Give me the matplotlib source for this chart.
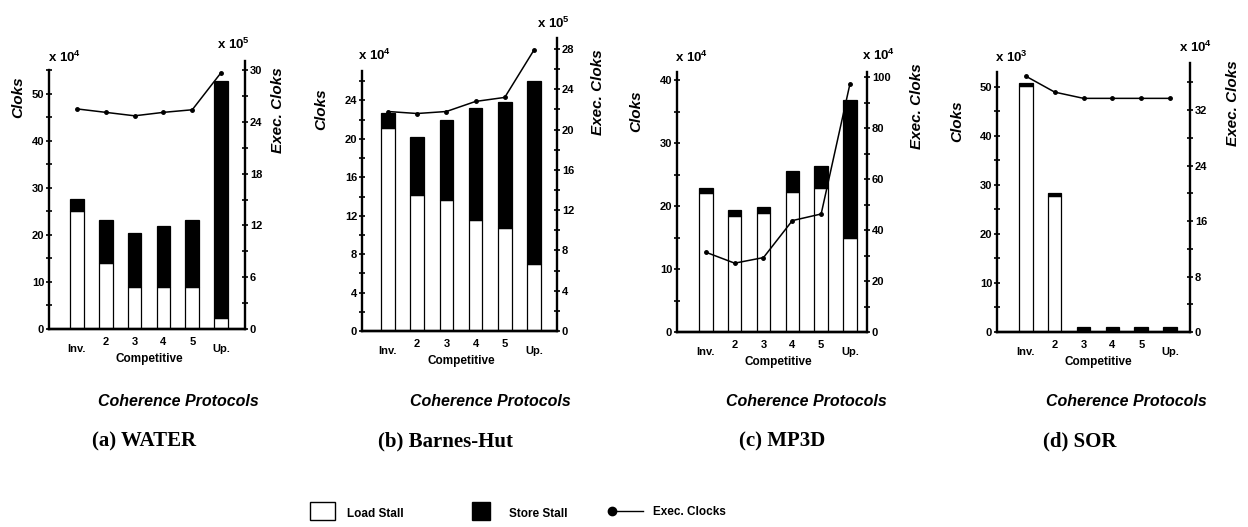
import numpy as np
import matplotlib
matplotlib.use('Agg')
import matplotlib.pyplot as plt
from matplotlib import transforms
from matplotlib.patches import Rectangle

plt.rcParams['font.family'] = 'Liberation Sans'
plt.rcParams['font.weight'] = 'bold'
plt.rcParams['mathtext.fontset'] = 'custom'
plt.rcParams['mathtext.rm'] = 'Liberation Sans:bold'
plt.rcParams['mathtext.bf'] = 'Liberation Sans:bold'

protocols = ['Inv.', '2', '3', '4', '5', 'Up.']

# (a) WATER  (clocks x1e4, exec x1e5)
water_load = [25.0, 14.0, 9.0, 9.0, 9.0, 2.3]
water_store = [2.7, 9.1, 11.4, 13.0, 14.2, 50.4]
water_exec = [25.5, 25.1, 24.7, 25.1, 25.4, 29.7]

# (b) Barnes-Hut  (x1e4, x1e5)
barnes_load = [21.1, 14.2, 13.6, 11.6, 10.7, 7.0]
barnes_store = [1.6, 6.0, 8.4, 11.6, 13.1, 19.0]
barnes_exec = [21.8, 21.6, 21.8, 22.8, 23.2, 27.9]

# (c) MP3D  (x1e4, x1e4)
mp3d_load = [22.1, 18.5, 18.9, 22.3, 22.9, 15.0]
mp3d_store = [0.8, 0.9, 0.9, 3.2, 3.4, 21.9]
mp3d_exec = [31.3, 27.0, 29.2, 43.7, 46.3, 97.4]

# (d) SOR  (x1e3, x1e4)
sor_load = [50.2, 27.7, 0.1, 0.1, 0.1, 0.1]
sor_store = [0.5, 0.6, 0.9, 0.9, 0.9, 0.9]
sor_exec = [36.9, 34.6, 33.7, 33.7, 33.7, 33.7]

W, H = 1248, 527
fig = plt.figure(figsize=(W / 100, H / 100), dpi=100)


def px_box(l, r, b, t):
    return [l / W, 1 - b / H, (r - l) / W, (b - t) / H]


def panel(box, xlim, load, store, exe, lylim, lbound, lmajor, lminor,
          rylim, rmajor, rminor):
    ax = fig.add_axes(px_box(*box))
    ax2 = ax.twinx()
    x = np.arange(len(protocols))
    ax.bar(x, load, 0.47, color='white', edgecolor='black', linewidth=0.9)
    ax.bar(x, store, 0.47, bottom=load, color='black', edgecolor='black',
           linewidth=0.9)
    ax2.plot(x, exe, color='black', lw=1.1, marker='o', ms=2.5)
    ax.set_xlim(*xlim)
    ax.set_ylim(0, lylim)
    ax2.set_ylim(0, rylim)

    for a in (ax, ax2):
        a.spines['top'].set_visible(False)
        for s in a.spines.values():
            s.set_linewidth(1.7)
    ax.spines['right'].set_visible(False)
    ax2.spines['left'].set_visible(False)
    ax.spines['left'].set_bounds(0, lbound)

    ax.set_xticks([])
    ax.set_yticks(np.arange(0, lbound + 0.01, lmajor))
    ax.set_yticks(np.arange(0, lbound + 0.01, lminor), minor=True)
    ax2.set_yticks(np.arange(0, rylim + 0.01, rmajor))
    ax2.set_yticks(np.arange(0, rylim + 0.01, rminor), minor=True)
    for a in (ax, ax2):
        a.tick_params(axis='y', which='both', direction='inout', length=5,
                      width=1.2, pad=1, labelsize=8)

    trans = ax.get_xaxis_transform()
    for i, lab in enumerate(protocols):
        dy = 20 if lab in ('Inv.', 'Up.') else 13
        ax.text(i, 0, lab, ha='center', va='center', fontsize=8,
                fontweight='bold',
                transform=transforms.offset_copy(trans, fig=fig, y=-dy,
                                                 units='dots'))
    ax.text(2.5, 0, 'Competitive', ha='center', va='center', fontsize=8.5,
            fontweight='bold',
            transform=transforms.offset_copy(trans, fig=fig, y=-30,
                                             units='dots'))
    return ax, ax2


panel((49, 245, 329, 61), (-0.97, 5.83), water_load, water_store, water_exec,
      57.0, 55, 10, 5, 31.05, 6, 3)
panel((362, 557, 331, 38), (-0.89, 5.79), barnes_load, barnes_store,
      barnes_exec, 30.5, 27.1, 4, 2, 29.1, 4, 2)
panel((677, 867, 332, 72), (-1.0, 5.59), mp3d_load, mp3d_store, mp3d_exec,
      41.3, 41.3, 10, 5, 102.0, 20, 10)
panel((997, 1190, 332, 63), (-1.0, 5.69), sor_load, sor_store, sor_exec,
      54.8, 53, 10, 5, 38.8, 8, 4)

# overlay in pixel coordinates for labels, captions and legend
ov = fig.add_axes([0, 0, 1, 1])
ov.set_xlim(0, W)
ov.set_ylim(H, 0)
ov.axis('off')
ov.patch.set_visible(False)

scale_labels = [(48, 62, 'left', '4'), (250, 49, 'right', '5'),
                (358, 60, 'left', '4'), (570, 28, 'right', '5'),
                (675, 62, 'left', '4'), (862, 60, 'left', '4'),
                (995, 62, 'left', '3'), (1212, 52, 'right', '4')]
for sx, sy, ha, e in scale_labels:
    ov.text(sx, sy, r'x 10$^{\mathbf{%s}}$' % e, ha=ha, va='baseline',
            fontsize=9.5, fontweight='bold')

for cx, cy in [(18, 97), (321, 109), (636, 111), (957, 121)]:
    ov.text(cx, cy, 'Cloks', rotation=90, ha='center', va='center',
            fontsize=11, fontweight='bold', style='italic')
for cx, cy in [(278, 110), (598, 92), (917, 106), (1233, 103)]:
    ov.text(cx, cy, 'Exec. Cloks', rotation=90, ha='center', va='center',
            fontsize=11, fontweight='bold', style='italic')

captions = ['(a) WATER', '(b) Barnes-Hut', '(c) MP3D', '(d) SOR']
for cx in [178, 490, 806, 1126]:
    ov.text(cx, 401, 'Coherence Protocols', ha='center', va='center',
            fontsize=11.5, fontweight='bold', style='italic')
for cx, cap in zip([144, 446, 782, 1080], captions):
    ov.text(cx, 441, cap, ha='center', va='center', fontsize=15,
            fontweight='bold', family='Liberation Serif')

# legend
ov.add_patch(Rectangle((310, 502), 25, 18, facecolor='white',
                       edgecolor='black', lw=1))
ov.text(347, 514, 'Load Stall', ha='left', va='center', fontsize=8.5,
        fontweight='bold')
ov.add_patch(Rectangle((472, 502), 18, 18, facecolor='black',
                       edgecolor='black', lw=1))
ov.text(509, 514, 'Store Stall', ha='left', va='center', fontsize=8.5,
        fontweight='bold')
ov.plot([612, 643], [511, 511], color='black', lw=1)
ov.plot([612], [511], 'o', color='black', ms=6)
ov.text(653, 512, 'Exec. Clocks', ha='left', va='center', fontsize=8.5,
        fontweight='bold')

fig.savefig('out.png', dpi=100)
